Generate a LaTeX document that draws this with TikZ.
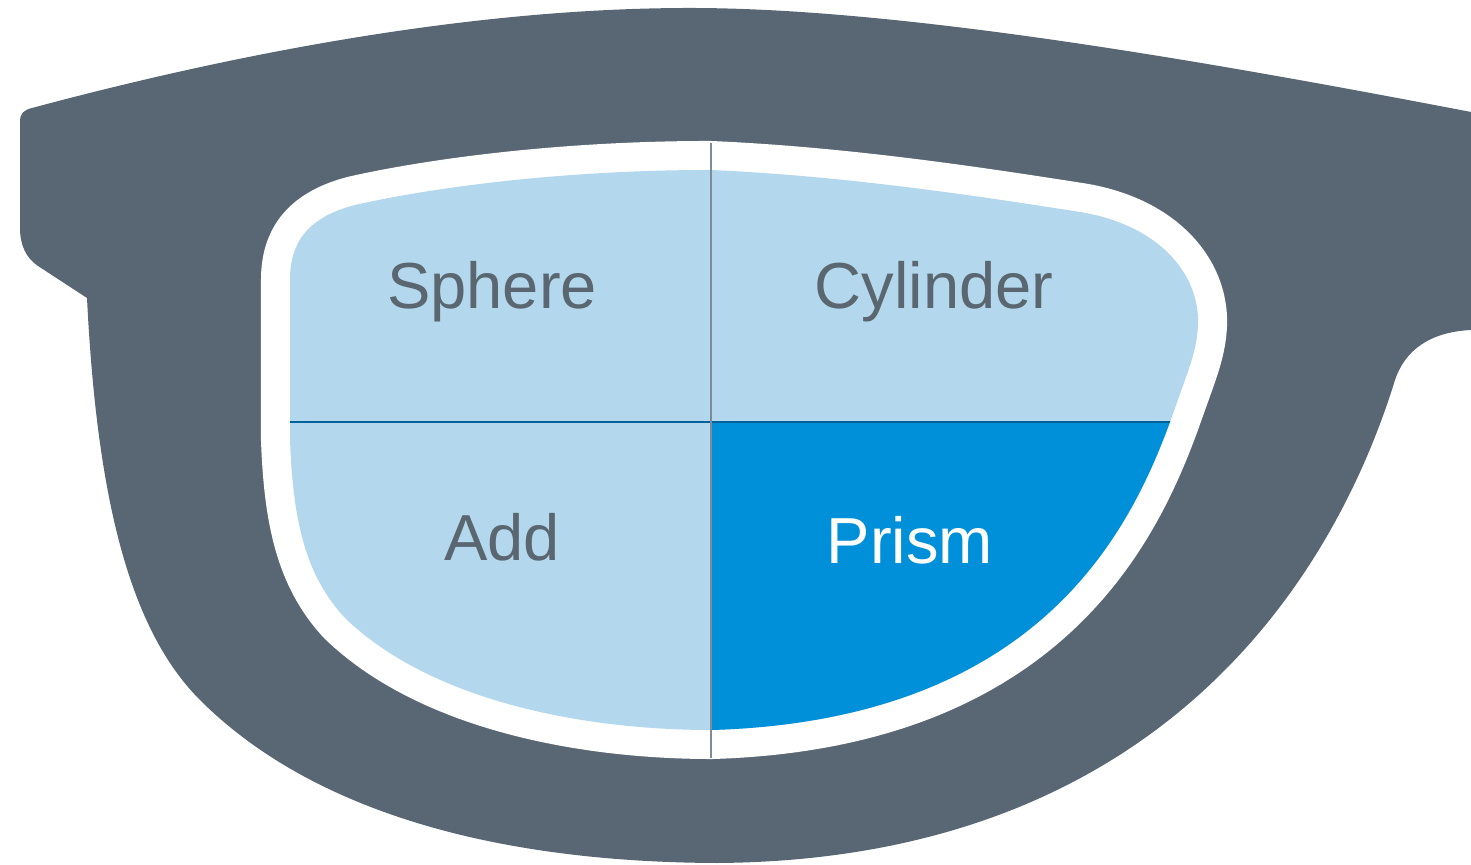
\documentclass[tikz,border=0pt]{standalone}
\usepackage{fontspec}
\setmainfont{Liberation Sans}
\usetikzlibrary{positioning}

\definecolor{framegray}{HTML}{596673}
\definecolor{lensblue}{HTML}{B3D7EC}
\definecolor{prismblue}{HTML}{0090DA}
\definecolor{splitblue}{HTML}{00609A}
\definecolor{splitgray}{HTML}{7F8C97}
\definecolor{labelgray}{HTML}{5A6670}

% outline of the lens glass (pixel units, y pointing down)
\newcommand{\lensoutline}{(710,170) .. controls (850,176) and (990,198) .. (1080,212)
    .. controls (1160,225) and (1200,275) .. (1198,325)
    .. controls (1197,345) and (1192,360) .. (1185,380) -- (1170,422)
    .. controls (1130,530) and (1040,720) .. (712,730)
    .. controls (580,730) and (430,700) .. (345,618)
    .. controls (305,575) and (293,520) .. (290,440) -- (290,280)
    .. controls (290,245) and (305,218) .. (355,205)
    .. controls (430,188) and (560,170) .. (710,170) -- cycle}

\begin{document}
\begin{tikzpicture}[
        x=0.01cm, y=-0.01cm,
        font=\fontsize{18.5}{22}\selectfont,
        quadlabel/.style={anchor=base, inner sep=0pt, text=labelgray},
        divider/.style={line width=0.02cm}
    ]
    \useasboundingbox (0,0) rectangle (1471,865);

    % Frame
    \fill[framegray] (20,122) .. controls (20,113) and (24,110) .. (32,108)
        .. controls (200,63) and (450,8) .. (690,8)
        .. controls (900,8) and (1200,60) .. (1471,112) -- (1471,330)
        .. controls (1430,332) and (1405,350) .. (1395,380)
        .. controls (1330,590) and (1150,860) .. (717,863)
        .. controls (470,862) and (300,800) .. (200,700)
        .. controls (130,630) and (97,500) .. (87,298) -- (38,266)
        .. controls (26,258) and (20,245) .. (20,228) -- cycle;

    % White rim, then the lens on top of it
    \draw[white, line width=0.58cm, line join=round] \lensoutline;
    \fill[lensblue] \lensoutline;

    % Prism quadrant and horizontal split
    \begin{scope}
        \clip \lensoutline;
        \fill[prismblue] (712,422) rectangle (1300,800);
        \draw[divider, splitblue] (280,422) -- (1220,422);
    \end{scope}

    % Vertical split
    \draw[line width=0.015cm, splitgray] (711,143) -- (711,758);

    % Labels
    \node[quadlabel] (sphere) at (492,309) {Sphere};
    \node[quadlabel] (cylinder) at (934,309) {Cylinder};
    \node[quadlabel] (add) at (502,561) {Add};
    \node[quadlabel, text=white] (prism) at (910,564) {Prism};

\end{tikzpicture}
\end{document}
